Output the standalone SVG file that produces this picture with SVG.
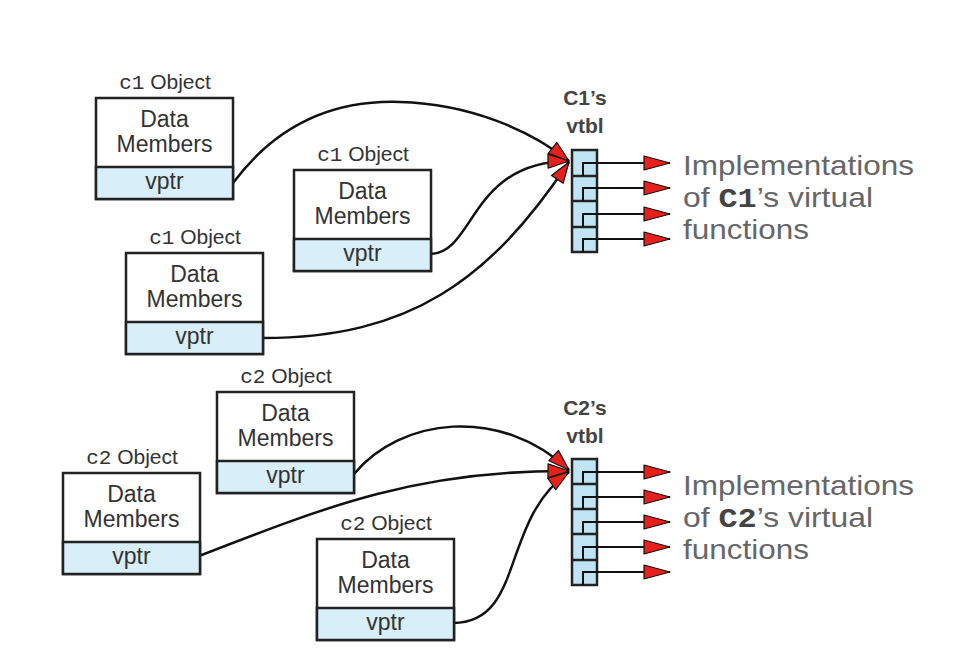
<svg xmlns="http://www.w3.org/2000/svg" width="956" height="667" viewBox="0 0 956 667">
<style>
.box{fill:#fff;stroke:#222;stroke-width:2.5}
.band{fill:#d8eef8;stroke:#222;stroke-width:2.5}
.t{font-family:"Liberation Sans",Arial,sans-serif;font-size:23px;fill:#333;text-anchor:middle}
.lbl{font-family:"Liberation Sans",Arial,sans-serif;font-size:21px;fill:#333;text-anchor:middle}
.mono{font-family:"Liberation Mono","Courier New",monospace}
.hdr{font-family:"Liberation Sans",Arial,sans-serif;font-size:21px;font-weight:bold;fill:#444;text-anchor:middle}
.impl{font-family:"Liberation Sans",Arial,sans-serif;font-size:28px;fill:#666}
.cm{font-family:"Liberation Mono","Courier New",monospace;font-weight:bold;fill:#444}
.vt{fill:#bfe5f5;stroke:#222;stroke-width:2.5}
.sep{stroke:#222;stroke-width:2.5}
.conn{fill:none;stroke:#111;stroke-width:2.5}
.ptr{fill:none;stroke:#111;stroke-width:2}
</style>
<defs>
<marker id="ah" markerUnits="userSpaceOnUse" markerWidth="26" markerHeight="18" refX="22" refY="8" orient="auto">
<path d="M1,1 L22,8 L1,15 Z" fill="#e8201c" stroke="#111" stroke-width="1.2" stroke-linejoin="round"/>
</marker>
<marker id="ah2" markerUnits="userSpaceOnUse" markerWidth="30" markerHeight="18" refX="27" refY="8" orient="auto">
<path d="M1,1 L27,8 L1,15 Z" fill="#e8201c" stroke="#111" stroke-width="1.2" stroke-linejoin="round"/>
</marker>
</defs>
<rect width="956" height="667" fill="#fff"/>

<g id="connectors">
<path class="conn" d="M233,183 C280,120 340,100 400,102 C470,104 530,130 569,161" marker-end="url(#ah)"/>
<path class="conn" d="M431,254 C475,252 470,162 569,161" marker-end="url(#ah)"/>
<path class="conn" d="M263,338 C410,338 490,280 569,162" marker-end="url(#ah)"/>
<path class="conn" d="M354,474 C400,418 500,405 569,470" marker-end="url(#ah)"/>
<path class="conn" d="M199,556 C330,505 420,470 569,471" marker-end="url(#ah)"/>
<path class="conn" d="M453,623 C525,623 500,520 569,472" marker-end="url(#ah)"/>
</g>

<g id="c1-obj-a">
<text class="lbl" x="165" y="89"><tspan class="mono">c1</tspan> Object</text>
<rect class="box" x="96" y="98" width="137" height="101"/>
<rect class="band" x="96" y="167" width="137" height="32"/>
<text class="t" x="164.5" y="127">Data</text>
<text class="t" x="164.5" y="152">Members</text>
<text class="t" x="164.5" y="189">vptr</text>
</g>
<g id="c1-obj-b">
<text class="lbl" x="363" y="161"><tspan class="mono">c1</tspan> Object</text>
<rect class="box" x="294" y="170" width="137" height="101"/>
<rect class="band" x="294" y="239" width="137" height="32"/>
<text class="t" x="362.5" y="199">Data</text>
<text class="t" x="362.5" y="224">Members</text>
<text class="t" x="362.5" y="261">vptr</text>
</g>
<g id="c1-obj-c">
<text class="lbl" x="195" y="244"><tspan class="mono">c1</tspan> Object</text>
<rect class="box" x="126" y="253" width="137" height="101"/>
<rect class="band" x="126" y="322" width="137" height="32"/>
<text class="t" x="194.5" y="282">Data</text>
<text class="t" x="194.5" y="307">Members</text>
<text class="t" x="194.5" y="344">vptr</text>
</g>
<g id="c2-obj-d">
<text class="lbl" x="286" y="383"><tspan class="mono">c2</tspan> Object</text>
<rect class="box" x="217" y="392" width="137" height="101"/>
<rect class="band" x="217" y="461" width="137" height="32"/>
<text class="t" x="285.5" y="421">Data</text>
<text class="t" x="285.5" y="446">Members</text>
<text class="t" x="285.5" y="483">vptr</text>
</g>
<g id="c2-obj-e">
<text class="lbl" x="132" y="464"><tspan class="mono">c2</tspan> Object</text>
<rect class="box" x="63" y="473" width="137" height="101"/>
<rect class="band" x="63" y="542" width="137" height="32"/>
<text class="t" x="131.5" y="502">Data</text>
<text class="t" x="131.5" y="527">Members</text>
<text class="t" x="131.5" y="564">vptr</text>
</g>
<g id="c2-obj-f">
<text class="lbl" x="386" y="530"><tspan class="mono">c2</tspan> Object</text>
<rect class="box" x="317" y="539" width="137" height="101"/>
<rect class="band" x="317" y="608" width="137" height="32"/>
<text class="t" x="385.5" y="568">Data</text>
<text class="t" x="385.5" y="593">Members</text>
<text class="t" x="385.5" y="630">vptr</text>
</g>

<g id="c1-vtbl">
<text class="hdr" x="585" y="105">C1’s</text>
<text class="hdr" x="585" y="133">vtbl</text>
<rect class="vt" x="572" y="150" width="25" height="102"/>
<line class="sep" x1="572" y1="176" x2="597" y2="176"/>
<line class="sep" x1="572" y1="201" x2="597" y2="201"/>
<line class="sep" x1="572" y1="227" x2="597" y2="227"/>
<path class="ptr" d="M583,176 V163 H670" marker-end="url(#ah2)"/>
<path class="ptr" d="M583,201 V188 H670" marker-end="url(#ah2)"/>
<path class="ptr" d="M583,227 V214 H670" marker-end="url(#ah2)"/>
<path class="ptr" d="M583,252 V239 H670" marker-end="url(#ah2)"/>
<text class="impl" x="683" y="175" textLength="231" lengthAdjust="spacingAndGlyphs">Implementations</text>
<text class="impl" x="683" y="207" textLength="190" lengthAdjust="spacingAndGlyphs">of <tspan class="cm">C1</tspan>’s virtual</text>
<text class="impl" x="683" y="239" textLength="126" lengthAdjust="spacingAndGlyphs">functions</text>
</g>

<g id="c2-vtbl">
<text class="hdr" x="585" y="415">C2’s</text>
<text class="hdr" x="585" y="443">vtbl</text>
<rect class="vt" x="572" y="459" width="25" height="126"/>
<line class="sep" x1="572" y1="484" x2="597" y2="484"/>
<line class="sep" x1="572" y1="509" x2="597" y2="509"/>
<line class="sep" x1="572" y1="534" x2="597" y2="534"/>
<line class="sep" x1="572" y1="560" x2="597" y2="560"/>
<path class="ptr" d="M583,484 V472 H670" marker-end="url(#ah2)"/>
<path class="ptr" d="M583,509 V497 H670" marker-end="url(#ah2)"/>
<path class="ptr" d="M583,534 V522 H670" marker-end="url(#ah2)"/>
<path class="ptr" d="M583,560 V547 H670" marker-end="url(#ah2)"/>
<path class="ptr" d="M583,585 V572 H670" marker-end="url(#ah2)"/>
<text class="impl" x="683" y="495" textLength="231" lengthAdjust="spacingAndGlyphs">Implementations</text>
<text class="impl" x="683" y="527" textLength="190" lengthAdjust="spacingAndGlyphs">of <tspan class="cm">C2</tspan>’s virtual</text>
<text class="impl" x="683" y="559" textLength="126" lengthAdjust="spacingAndGlyphs">functions</text>
</g>
</svg>
